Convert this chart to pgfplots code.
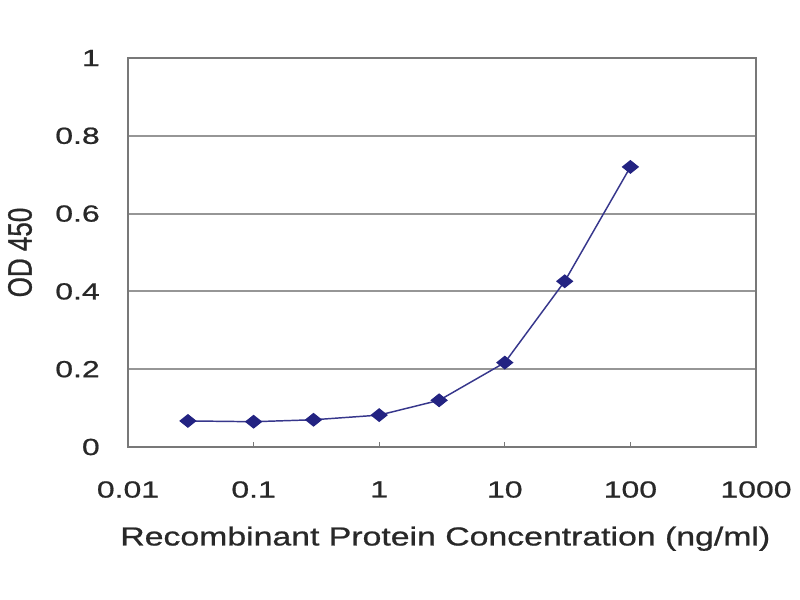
\documentclass[border=0pt]{standalone}
\usepackage{pgfplots}
\pgfplotsset{compat=1.18}
\usepackage{fontspec}
\setmainfont{Liberation Sans}
\newfontfamily\tickfont[FakeStretch=1.37, FakeBold=0.8]{Liberation Sans}
\newfontfamily\labfont[FakeStretch=1.30, FakeBold=0.8]{Liberation Sans}
\newfontfamily\ylabfont[FakeBold=0.8]{Liberation Sans}
\definecolor{txt}{RGB}{40,40,40}
\definecolor{gridc}{RGB}{150,150,150}
\definecolor{axc}{RGB}{120,120,120}
\definecolor{ser}{RGB}{35,35,130}
\definecolor{serl}{RGB}{55,55,140}
\begin{document}
\begin{tikzpicture}
\path[use as bounding box, fill=white] (0,0) rectangle (600pt,450pt);
\begin{axis}[
  at={(96pt,114.75pt)}, anchor=south west,
  width=471pt, height=291.75pt, scale only axis,
  xmode=log, xmin=0.01, xmax=1000, ymin=0, ymax=1,
  xtick={0.01,0.1,1,10,100,1000},
  xticklabels={0.01,0.1,1,10,100,1000},
  ytick={0,0.2,0.4,0.6,0.8,1},
  yticklabels={0,0.2,0.4,0.6,0.8,1},
  xminorticks=false,
  ymajorgrids,
  grid style={gridc, line width=1.4pt},
  axis line style={axc, line width=1.3pt},
  tick align=inside, tick pos=left,
  major tick length=4pt,
  xtick style={axc, line width=0.8pt},
  ytick style={draw=none},
  ticklabel style={text=txt},
  xticklabel style={font=\tickfont\fontsize{17.5}{20}\selectfont, anchor=north, inner sep=0pt, yshift=-25.5pt},
  yticklabel style={font=\tickfont\fontsize{17.5}{20}\selectfont, anchor=east, inner sep=0pt, xshift=-21pt},
  xlabel={Recombinant Protein Concentration (ng/ml)},
  xlabel style={font=\labfont\fontsize{19.5}{22}\selectfont, text=txt, at={(axis description cs:0.5,0)}, anchor=north, inner sep=0pt, yshift=-59.5pt, xshift=2.5pt},
  ylabel={\scalebox{1}[1.3]{OD 450}},
  ylabel style={font=\ylabfont\fontsize{19.5}{22}\selectfont, text=txt, at={(axis description cs:0,0.5)}, anchor=center, inner sep=0pt, yshift=81pt},
  clip=false,
]
\addplot[serl, line width=1.1pt, mark=square*, mark size=3.2pt,
  mark options={xscale=1.25, rotate=45, fill=ser, draw=ser}]
  coordinates {
  (0.03,0.067) (0.1,0.065) (0.3,0.070) (1,0.082) (3,0.120)
  (10,0.217) (30,0.426) (100,0.720)
  };
\end{axis}
\end{tikzpicture}
\end{document}
